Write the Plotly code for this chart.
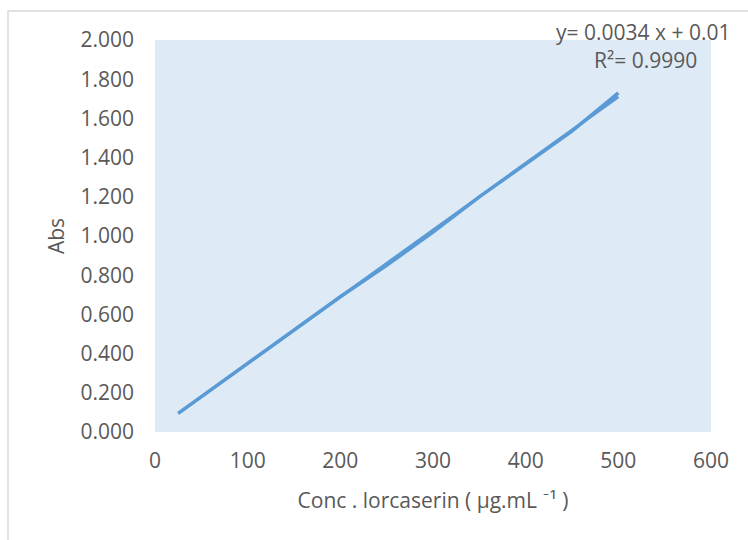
import plotly.graph_objects as go

# Calibration data: concentration (µg/mL) vs absorbance
conc = [25, 50, 100, 150, 200, 250, 300, 350, 400, 450, 500]
absorbance = [0.095, 0.18, 0.35, 0.52, 0.69, 0.85, 1.02, 1.20, 1.37, 1.535, 1.73]

# Linear regression reported on the chart
slope = 0.0034
intercept = 0.01
r_squared = 0.9990

x_ticks = [0, 100, 200, 300, 400, 500, 600]
y_ticks = [0.0, 0.2, 0.4, 0.6, 0.8, 1.0, 1.2, 1.4, 1.6, 1.8, 2.0]

line_color = "#5B9BD5"
text_color = "#595959"
font_family = "Open Sans, Lato, sans-serif"
font_size = 21

trend_x = [conc[0], conc[-1]]
trend_y = [slope * x + intercept for x in trend_x]

fig = go.Figure()
fig.add_trace(go.Scatter(
    x=conc, y=absorbance, mode="lines",
    line=dict(color=line_color, width=3.5),
    showlegend=False, hoverinfo="skip",
))
fig.add_trace(go.Scatter(
    x=trend_x, y=trend_y, mode="lines",
    line=dict(color=line_color, width=3),
    showlegend=False, hoverinfo="skip",
))

fig.update_layout(
    width=748, height=540,
    margin=dict(l=155, r=37, t=40, b=108),
    paper_bgcolor="white",
    plot_bgcolor="#DEEAF5",
    font=dict(family=font_family, size=font_size, color=text_color),
    xaxis=dict(
        range=[0, 600], tickvals=x_ticks, ticktext=[str(v) for v in x_ticks],
        showgrid=False, zeroline=False, showline=False,
        ticks="", ticklabelstandoff=14,
        title=dict(text="Conc . lorcaserin ( µg.mL ⁻¹ )", standoff=20,
                   font=dict(size=font_size, color=text_color)),
    ),
    yaxis=dict(
        range=[0, 2.0], tickvals=y_ticks, ticktext=[f"{v:.3f}" for v in y_ticks],
        showgrid=False, zeroline=False, showline=False,
        ticks="", ticklabelstandoff=20,
        title=dict(text="Abs", standoff=10, font=dict(size=font_size, color=text_color)),
    ),
    shapes=[dict(
        type="rect", xref="paper", yref="paper",
        x0=(8 - 155) / 556, x1=(770 - 155) / 556,
        y0=(432 - 570) / 392, y1=1 + 29 / 392,
        line=dict(color="#D9D9D9", width=1.5), fillcolor="rgba(0,0,0,0)",
        layer="below",
    )],
    annotations=[
        dict(text=f"y= {slope} x + {intercept}", xref="paper", yref="paper",
             x=(643 - 155) / 556, y=1 + 8 / 392, xanchor="center", yanchor="middle",
             showarrow=False, font=dict(size=font_size, color=text_color)),
        dict(text=f"R²= {r_squared:.4f}", xref="paper", yref="paper",
             x=(645 - 155) / 556, y=1 - 20 / 392, xanchor="center", yanchor="middle",
             showarrow=False, font=dict(size=font_size, color=text_color)),
    ],
)

fig.write_html("out.html")
